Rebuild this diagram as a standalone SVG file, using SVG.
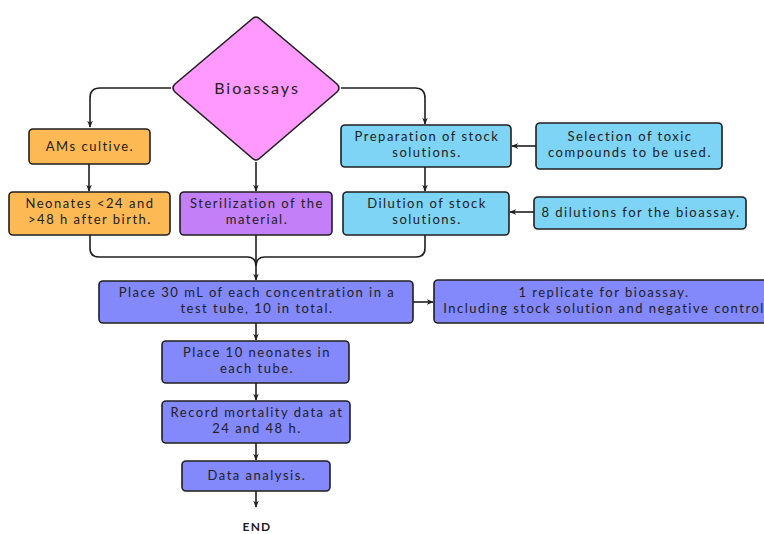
<svg xmlns="http://www.w3.org/2000/svg" width="764" height="534" viewBox="0 0 764 534">
<defs>
<marker id="ah" viewBox="0 0 10 10" refX="9" refY="5" markerWidth="7" markerHeight="7" orient="auto" markerUnits="userSpaceOnUse">
<path d="M0,1 L10,5 L0,9 L3,5 z" fill="#1f1f1f"/>
</marker>
<style>
.box{stroke:#1f1f1f;stroke-width:1.6}
.or{fill:#FDB953}
.pu{fill:#C27FF8}
.bl{fill:#7ED4F5}
.pe{fill:#8388FA}
.t{font-family:"Lato","Noto Sans",sans-serif;font-size:13px;fill:#222;text-anchor:middle;letter-spacing:1.5px}
.c{fill:none;stroke:#1f1f1f;stroke-width:1.6}
</style>
</defs>
<rect width="764" height="534" fill="#fff"/>
<g id="connectors">
<path class="c" d="M171,88 H100 Q90,88 90,98 V127" marker-end="url(#ah)"/>
<path class="c" d="M341,88 H415 Q425,88 425,98 V124" marker-end="url(#ah)"/>
<path class="c" d="M89,164 V191" marker-end="url(#ah)"/>
<path class="c" d="M256,162 V191" marker-end="url(#ah)"/>
<path class="c" d="M425,167 V191" marker-end="url(#ah)"/>
<path class="c" d="M536,146 H512" marker-end="url(#ah)"/>
<path class="c" d="M534,212 H510" marker-end="url(#ah)"/>
<path class="c" d="M90,235 V248 Q90,257 99,257 H247 Q256,257 256,266"/>
<path class="c" d="M425,235 V248 Q425,257 416,257 H265 Q256,257 256,266"/>
<path class="c" d="M256,235 V280" marker-end="url(#ah)"/>
<path class="c" d="M413,302 H433" marker-end="url(#ah)"/>
<path class="c" d="M256,323 V340" marker-end="url(#ah)"/>
<path class="c" d="M256,383 V400" marker-end="url(#ah)"/>
<path class="c" d="M256,443 V460" marker-end="url(#ah)"/>
<path class="c" d="M256,491 V507" marker-end="url(#ah)"/>
</g>
<g id="bioassays">
<path class="box" fill="#FF99FF" d="M252,19 Q256,15 260,19 L337,84 Q341,88 337,92 L260,158 Q256,162 252,158 L175,92 Q171,88 175,84 Z"/>
<text class="t" x="257" y="94" style="font-size:16px;letter-spacing:2px">Bioassays</text>
</g>
<g id="ams">
<rect class="box or" x="29" y="129" width="121" height="35" rx="4"/>
<text class="t" x="90" y="151">AMs cultive.</text>
</g>
<g id="neonates">
<rect class="box or" x="9" y="192" width="161" height="43" rx="4"/>
<text class="t" x="90" y="208">Neonates &lt;24 and</text>
<text class="t" x="90" y="224">&gt;48 h after birth.</text>
</g>
<g id="sterilization">
<rect class="box pu" x="180" y="192" width="152" height="43" rx="4"/>
<text class="t" x="257" y="208">Sterilization of the</text>
<text class="t" x="257" y="224">material.</text>
</g>
<g id="preparation">
<rect class="box bl" x="341" y="125" width="170" height="42" rx="4"/>
<text class="t" x="427" y="141">Preparation of stock</text>
<text class="t" x="427" y="157">solutions.</text>
</g>
<g id="selection">
<rect class="box bl" x="536" y="123" width="186" height="46" rx="4"/>
<text class="t" x="630" y="141">Selection of toxic</text>
<text class="t" x="630" y="157">compounds to be used.</text>
</g>
<g id="dilution">
<rect class="box bl" x="343" y="192" width="166" height="43" rx="4"/>
<text class="t" x="427" y="208">Dilution of stock</text>
<text class="t" x="427" y="224">solutions.</text>
</g>
<g id="dilutions8">
<rect class="box bl" x="534" y="197" width="212" height="32" rx="4"/>
<text class="t" x="641" y="217">8 dilutions for the bioassay.</text>
</g>
<g id="place30">
<rect class="box pe" x="99" y="281" width="314" height="42" rx="4"/>
<text class="t" x="257" y="297">Place 30 mL of each concentration in a</text>
<text class="t" x="257" y="313">test tube, 10 in total.</text>
</g>
<g id="replicate">
<rect class="box pe" x="434" y="280" width="340" height="43" rx="4"/>
<text class="t" x="604" y="297">1 replicate for bioassay.</text>
<text class="t" x="604" y="313">Including stock solution and negative control</text>
</g>
<g id="place10">
<rect class="box pe" x="162" y="341" width="187" height="42" rx="4"/>
<text class="t" x="257" y="357">Place 10 neonates in</text>
<text class="t" x="257" y="373">each tube.</text>
</g>
<g id="record">
<rect class="box pe" x="162" y="401" width="188" height="42" rx="4"/>
<text class="t" x="257" y="417">Record mortality data at</text>
<text class="t" x="257" y="433">24 and 48 h.</text>
</g>
<g id="analysis">
<rect class="box pe" x="182" y="461" width="148" height="30" rx="4"/>
<text class="t" x="257" y="480">Data analysis.</text>
</g>
<g id="end">
<text class="t" x="257" y="531" style="font-weight:bold;font-size:12px;letter-spacing:1.2px">END</text>
</g>
</svg>
